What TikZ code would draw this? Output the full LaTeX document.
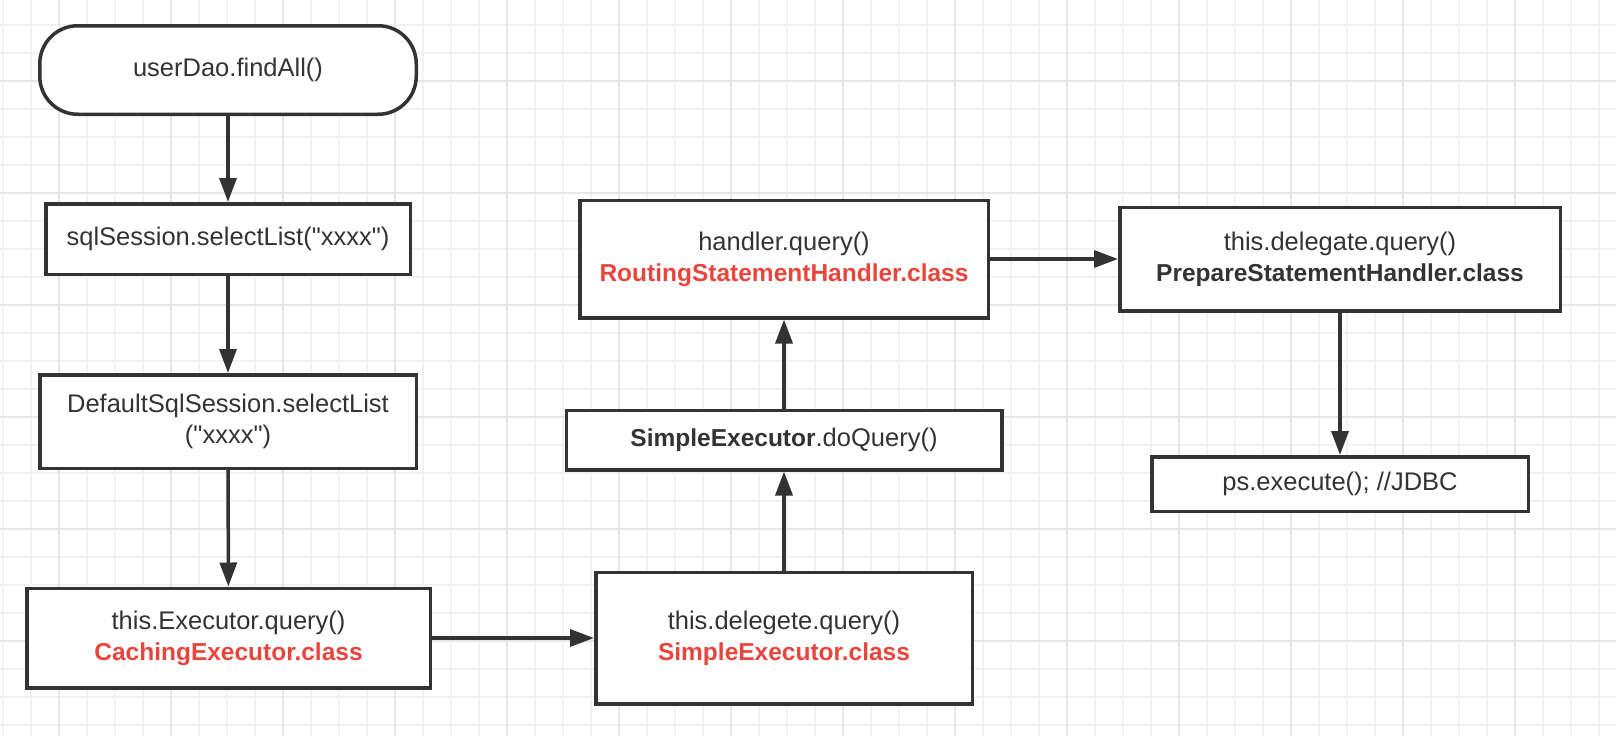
\documentclass[tikz,border=0pt]{standalone}
\usepackage{fontspec}
\setmainfont{Liberation Sans}[Ligatures=TeXOff]
\usetikzlibrary{arrows.meta}
\definecolor{dk}{HTML}{333333}
\definecolor{rd}{HTML}{E8453C}
\definecolor{gminor}{HTML}{F2F2F2}
\definecolor{gmajor}{HTML}{E6E6E6}
\tikzset{
  box/.style={draw=dk, line width=3.5pt, fill=white, text=dk, align=center,
    inner sep=0pt, font=\fontsize{25.5}{31}\selectfont},
  pill/.style={box, rounded corners=38pt},
  flow/.style={draw=dk, line width=3.5pt, -{Triangle[length=24pt,width=17pt]}},
}
\newcommand{\bfx}[1]{{\fontsize{24.5}{31}\selectfont\bfseries #1}}
\newcommand{\rtx}[1]{{\color{rd}\bfx{#1}}}
\begin{document}
\begin{tikzpicture}[x=1pt,y=-1pt]
\useasboundingbox (0,0) rectangle (1616,736);
\fill[white] (0,0) rectangle (1616,736);
% grid
\foreach \k in {0,...,57} {\draw[gminor, line width=1.6pt] ({3+28*\k},0) -- ({3+28*\k},736);}
\foreach \k in {0,...,25} {\draw[gminor, line width=1.6pt] (0,{25+28*\k}) -- (1616,{25+28*\k});}
\foreach \k in {0,...,13} {\draw[gmajor, line width=1.8pt] ({59+112*\k},0) -- ({59+112*\k},736);}
\foreach \k in {0,...,5} {\draw[gmajor, line width=1.8pt] (0,{81+112*\k}) -- (1616,{81+112*\k});}
% nodes
\node[pill, minimum width=376.5pt, minimum height=88.5pt] (find) at (228,70) {userDao.findAll()};
\node[box, minimum width=364.5pt, minimum height=70.5pt] (sql) at (228,239) {sqlSession.selectList("xxxx")};
\node[box, minimum width=376.5pt, minimum height=93.5pt] (dss) at (228,421.5) {DefaultSqlSession.selectList\\("xxxx")};
\node[box, minimum width=403.5pt, minimum height=99.5pt] (cach) at (228.5,638) {this.Executor.query()\\\rtx{CachingExecutor.class}};
\node[box, minimum width=376.5pt, minimum height=131.5pt] (simp) at (784,638) {this.delegete.query()\\\rtx{SimpleExecutor.class}};
\node[box, minimum width=435.5pt, minimum height=59.5pt] (doq) at (784,440) {\bfx{SimpleExecutor}.doQuery()};
\node[box, minimum width=408.5pt, minimum height=117.5pt] (rout) at (784,259) {handler.query()\\\rtx{RoutingStatementHandler.class}};
\node[box, minimum width=440.5pt, minimum height=103.5pt] (prep) at (1340,259) {this.delegate.query()\\\bfx{PrepareStatementHandler.class}};
\node[box, minimum width=376.5pt, minimum height=54.5pt] (ps) at (1340,484) {ps.execute(); //JDBC};
% connectors
\draw[flow] (find) -- (sql);
\draw[flow] (sql) -- (dss);
\draw[flow] (dss) -- (cach);
\draw[flow] (cach) -- (simp);
\draw[flow] (simp) -- (doq);
\draw[flow] (doq) -- (rout);
\draw[flow] (rout) -- (prep);
\draw[flow] (prep) -- (ps);
\end{tikzpicture}
\end{document}
